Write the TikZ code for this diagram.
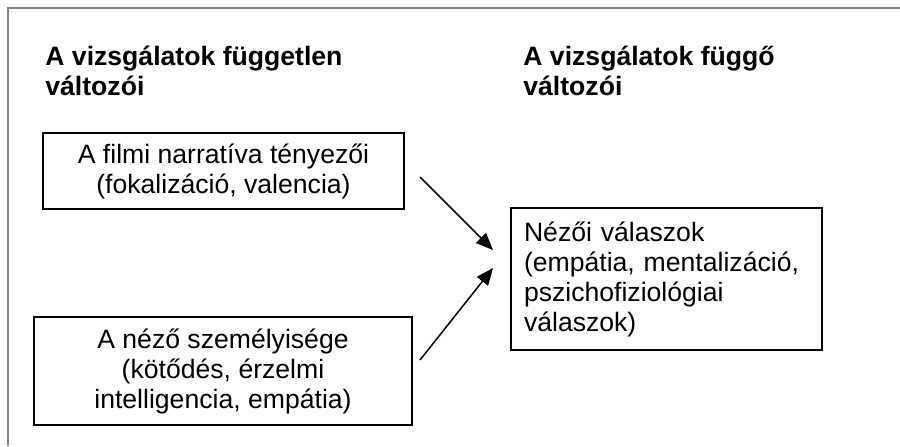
\documentclass[tikz,border=0pt]{standalone}
\usepackage{fontspec}
\setmainfont{Liberation Sans}
\usetikzlibrary{positioning, arrows.meta}

\begin{document}
\begin{tikzpicture}[x=0.5pt, y=-0.5pt,
    txt/.style={font=\fontsize{13.3pt}{15pt}\selectfont},
    head/.style={txt, font=\fontsize{13.3pt}{15pt}\selectfont\bfseries, align=left, inner sep=0pt, anchor=base west},
    valtozo/.style={txt, draw, line width=1pt, align=center, inner sep=0pt},
    arr/.style={line width=0.75pt, -{Triangle[length=8.5pt, width=7pt]}}]
    \useasboundingbox (0,0) rectangle (900,446);

    % Draw frame
    \draw[line width=1pt, gray] (900,7.5) -- (8,7.5) -- (8,446);

    % Headings
    \node[head] (fuggetlen) at (45,95) {A vizsgálatok független\\változói};
    \node[head] (fuggo) at (523,95) {A vizsgálatok függő\\változói};

    % Boxes
    \node[valtozo, minimum width=180.5pt, minimum height=38pt] (filmi) at (223.5,171)
      {A filmi narratíva tényezői\\(fokalizáció, valencia)};
    \node[valtozo, minimum width=189pt, minimum height=54pt] (nezo) at (223,371)
      {A néző személyisége\\(kötődés, érzelmi\\intelligencia, empátia)};
    \node[valtozo, align=left, text width=142.5pt, inner sep=6.5pt, minimum height=70pt] (valasz) at (666.5,279)
      {Nézői válaszok\\(empátia, mentalizáció,\\pszichofiziológiai\\válaszok)};

    % Draw arrows
    \draw[arr] ([shift={(15,6)}]filmi.east) -- ([shift={(-17,-29)}]valasz.west);
    \draw[arr] ([shift={(7,-11)}]nezo.east) -- ([shift={(-17,-11)}]valasz.west);
\end{tikzpicture}
\end{document}
